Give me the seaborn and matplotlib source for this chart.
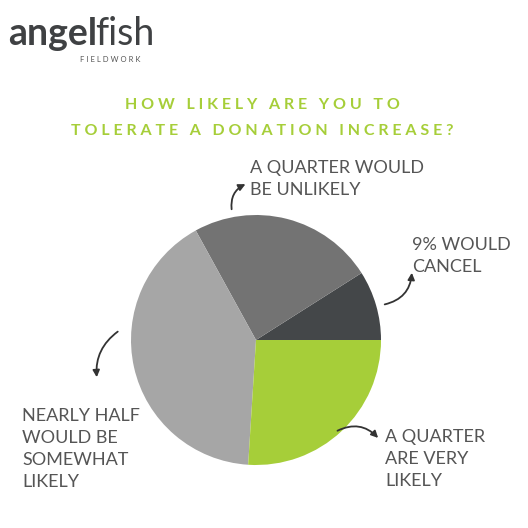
import matplotlib
matplotlib.use("Agg")
import matplotlib.pyplot as plt
import seaborn as sns

sns.set_theme(style="white")
plt.rcParams['font.family'] = ['Lato', 'DejaVu Sans']

# slices counterclockwise from 3 o'clock
labels = ["9% would cancel", "A quarter would be unlikely",
          "Nearly half would be somewhat likely", "A quarter are very likely"]
shares = [9, 24, 41, 26]
colors = ["#444749", "#737373", "#a6a6a6", "#a6ce39"]

fig = plt.figure(figsize=(5.28, 5.28), dpi=100)
fig.patch.set_facecolor("white")


def px(x, y):
    return x / 528, 1 - y / 528


# logo
fig.text(*px(8, 45), "angel", fontsize=27, color="#3f4143", fontweight="bold", va="baseline")
fig.text(*px(95, 45), "fish", fontsize=27, color="#3f4143", va="baseline")
fig.text(*px(80, 62), "F I E L D W O R K", fontsize=5.5, color="#555555", va="baseline")

# title
title_style = dict(fontsize=11.5, color="#a6ce39", fontweight="bold", ha="center", va="center")
fig.text(*px(262, 105), "H O W   L I K E L Y   A R E   Y O U   T O", **title_style)
fig.text(*px(262, 131), "T O L E R A T E   A   D O N A T I O N   I N C R E A S E ?", **title_style)

ax = fig.add_axes([px(131, 0)[0], px(0, 465)[1], 250 / 528, 250 / 528])
ax.pie(shares, colors=colors, startangle=0, counterclock=True,
       wedgeprops=dict(linewidth=0))
ax.set_xlim(-1, 1)
ax.set_ylim(-1, 1)
ax.set_aspect("equal")
ax.axis("off")

lab_style = dict(fontsize=13, color="#555555", va="center", linespacing=1.45)
fig.text(*px(250, 179), "A QUARTER WOULD\nBE UNLIKELY", ha="left", **lab_style)
fig.text(*px(412, 256), "9% WOULD\nCANCEL", ha="left", **lab_style)
fig.text(*px(22, 449), "NEARLY HALF\nWOULD BE\nSOMEWHAT\nLIKELY", ha="left", **lab_style)
fig.text(*px(385, 459), "A QUARTER\nARE VERY\nLIKELY", ha="left", **lab_style)

arr = dict(arrowstyle="-|>", color="#333333", lw=1.3, mutation_scale=10)
arrows = [((232, 212), (248, 183), "arc3,rad=-0.4"),
          ((382, 305), (412, 270), "arc3,rad=0.4"),
          ((120, 330), (97, 380), "arc3,rad=0.3"),
          ((335, 432), (380, 440), "arc3,rad=-0.4")]
for start, end, cs in arrows:
    fig.add_artist(matplotlib.patches.FancyArrowPatch(
        px(*start), px(*end), transform=fig.transFigure,
        connectionstyle=cs, **arr))

fig.savefig("out.png", dpi=100, facecolor="white")
